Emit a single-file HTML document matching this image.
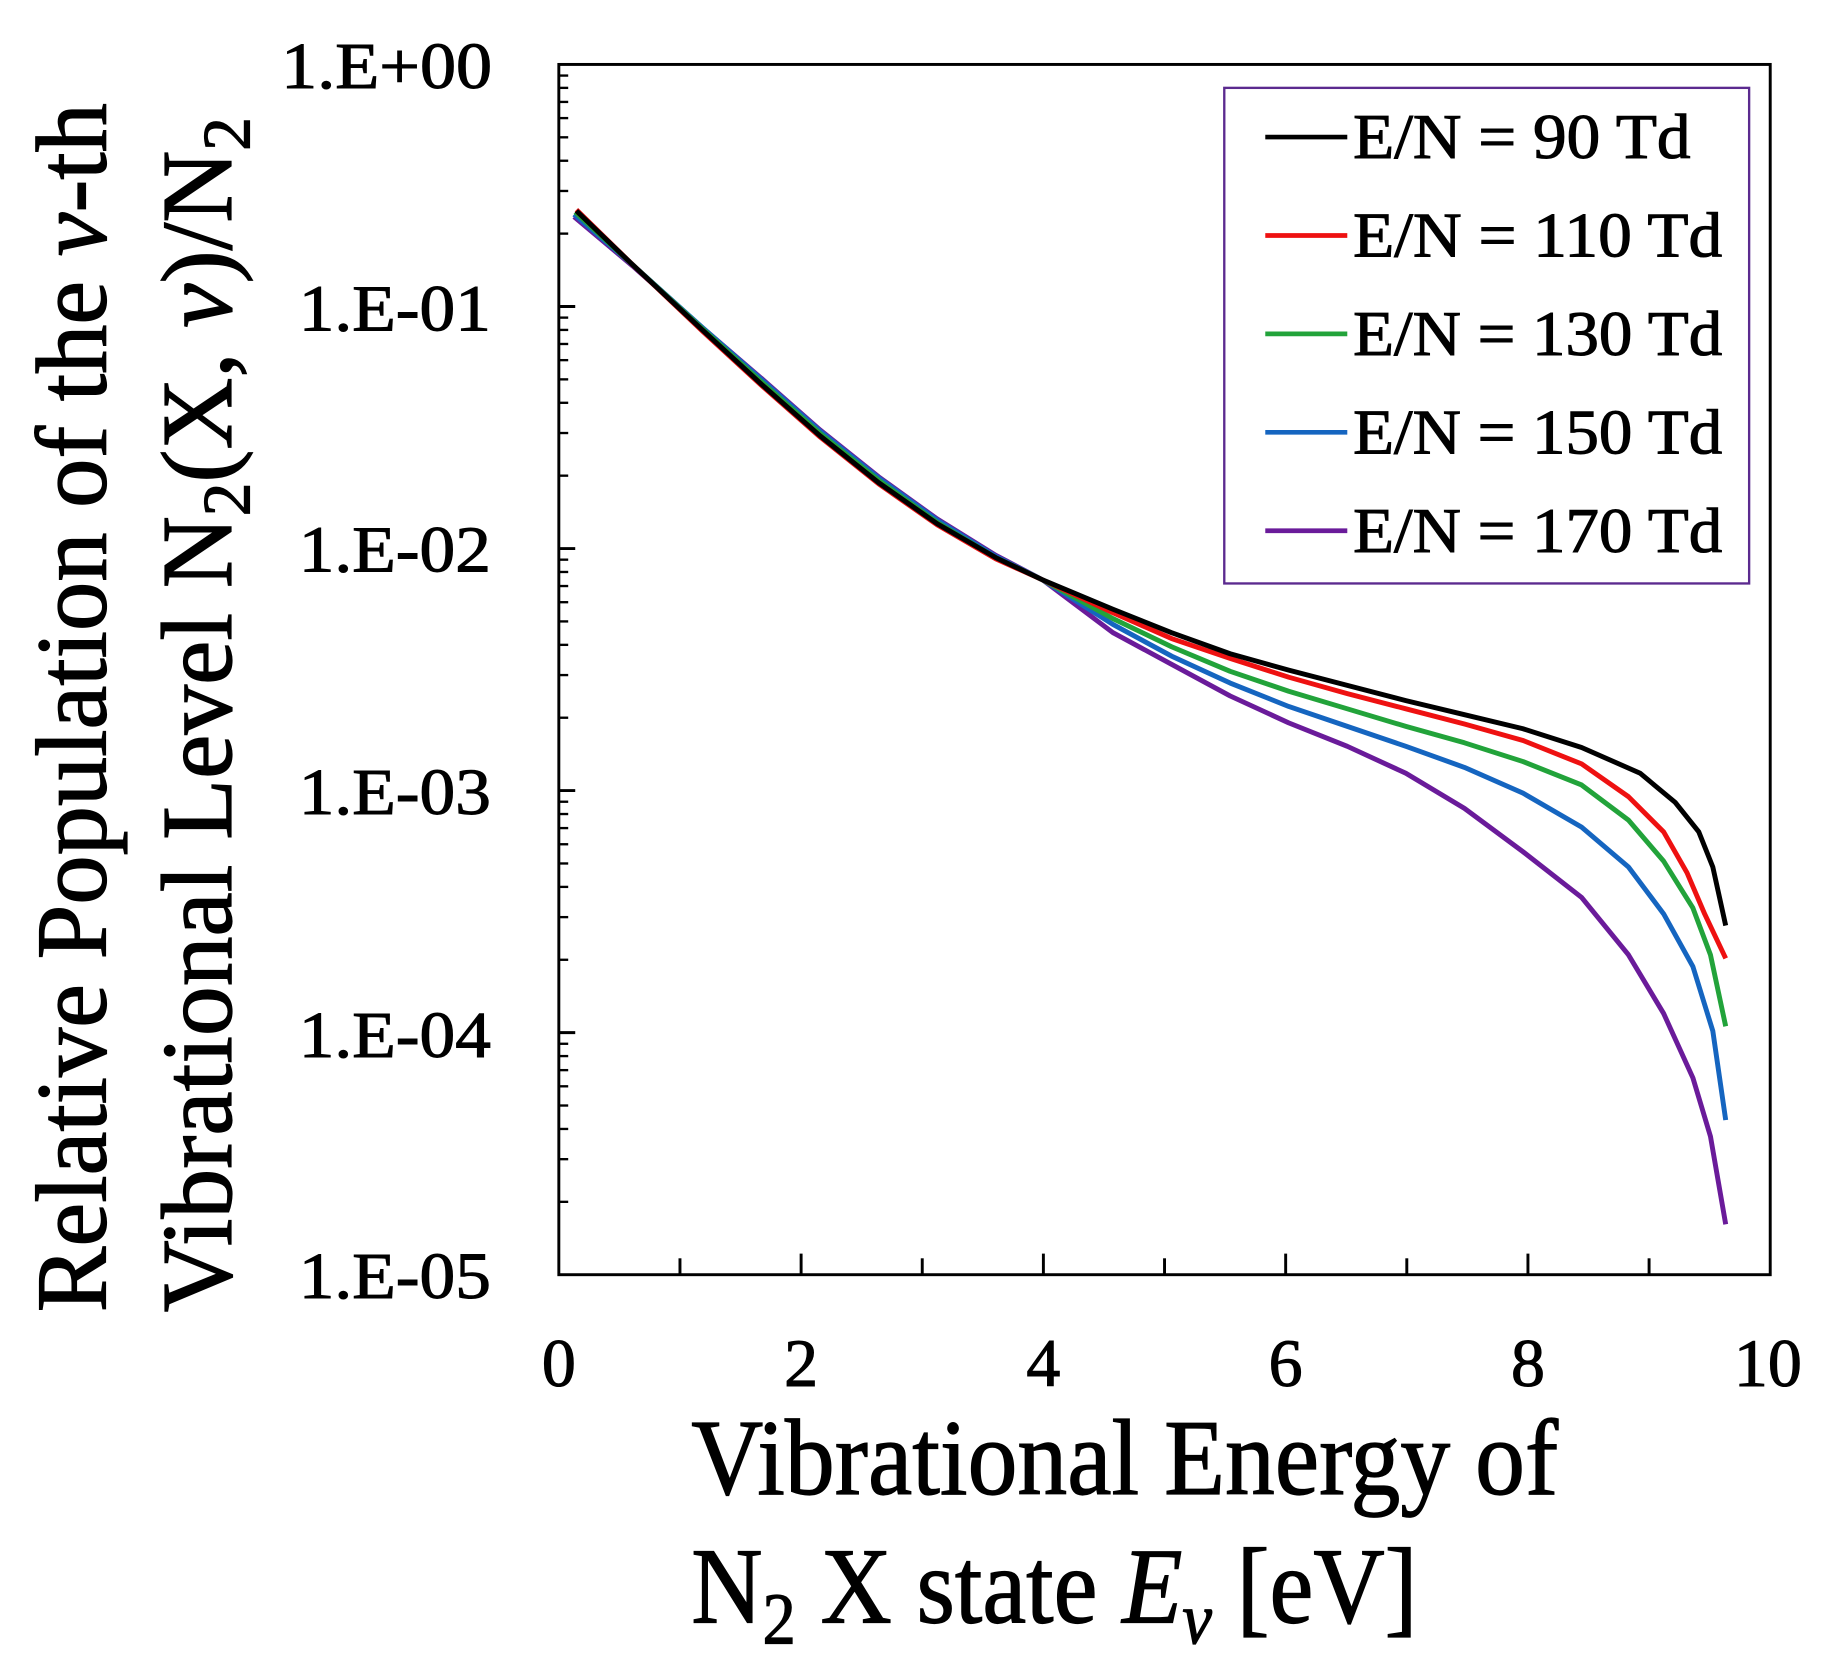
<!DOCTYPE html>
<html><head><meta charset="utf-8"><style>html,body{margin:0;padding:0;background:#fff}svg{display:block}</style></head>
<body>
<svg width="1837" height="1655" viewBox="0 0 1568 1412.6" preserveAspectRatio="none" xmlns="http://www.w3.org/2000/svg" font-family="Liberation Serif, serif">
<defs>
<g id="mt" stroke="#000" stroke-width="2">
<line x1="477" x2="485" y1="-62.2" y2="-62.2"/><line x1="477" x2="485" y1="-98.6" y2="-98.6"/>
<line x1="477" x2="485" y1="-124.4" y2="-124.4"/><line x1="477" x2="485" y1="-144.4" y2="-144.4"/>
<line x1="477" x2="485" y1="-160.8" y2="-160.8"/><line x1="477" x2="485" y1="-174.6" y2="-174.6"/>
<line x1="477" x2="485" y1="-186.6" y2="-186.6"/><line x1="477" x2="485" y1="-197.1" y2="-197.1"/>
</g>
</defs>
<rect x="477" y="55" width="1034" height="1033" fill="none" stroke="#000" stroke-width="2.5"/>
<use href="#mt" transform="translate(0,261.6)"/><use href="#mt" transform="translate(0,468.2)"/>
<use href="#mt" transform="translate(0,674.8)"/><use href="#mt" transform="translate(0,881.4)"/>
<use href="#mt" transform="translate(0,1088)"/>
<g stroke="#000" stroke-width="2.5">
<line x1="477" x2="491" y1="261.6" y2="261.6"/><line x1="477" x2="491" y1="468.2" y2="468.2"/>
<line x1="477" x2="491" y1="674.8" y2="674.8"/><line x1="477" x2="491" y1="881.4" y2="881.4"/>
<line x1="580.4" x2="580.4" y1="1088" y2="1074"/><line x1="683.8" x2="683.8" y1="1088" y2="1070"/>
<line x1="787.2" x2="787.2" y1="1088" y2="1074"/><line x1="890.6" x2="890.6" y1="1088" y2="1070"/>
<line x1="994" x2="994" y1="1088" y2="1074"/><line x1="1097.4" x2="1097.4" y1="1088" y2="1070"/>
<line x1="1200.8" x2="1200.8" y1="1088" y2="1074"/><line x1="1304.2" x2="1304.2" y1="1088" y2="1070"/>
<line x1="1407.6" x2="1407.6" y1="1088" y2="1074"/>
</g>
<g stroke="#000" stroke-width="0.9">
<g font-size="56">
<text x="240" y="75" textLength="180" lengthAdjust="spacingAndGlyphs">1.E+00</text>
<text x="255" y="282" textLength="164" lengthAdjust="spacingAndGlyphs">1.E-01</text>
<text x="255" y="488" textLength="164" lengthAdjust="spacingAndGlyphs">1.E-02</text>
<text x="255" y="695" textLength="164" lengthAdjust="spacingAndGlyphs">1.E-03</text>
<text x="255" y="902" textLength="164" lengthAdjust="spacingAndGlyphs">1.E-04</text>
<text x="255" y="1108" textLength="164" lengthAdjust="spacingAndGlyphs">1.E-05</text>
</g>
<g font-size="58" text-anchor="middle">
<text x="477" y="1183">0</text><text x="683.8" y="1183">2</text><text x="890.6" y="1183">4</text>
<text x="1097.4" y="1183">6</text><text x="1304.2" y="1183">8</text><text x="1509" y="1183">10</text>
</g>
</g>
<g fill="none" stroke-width="4.2" stroke-linejoin="round">
<polyline stroke="#6a1b9a" points="490,185 540,227 600,280 650,323 700,367 750,407 800,443 850,474 890,495 950,540 1000,567 1050,594 1100,617 1150,637 1200,660 1250,690 1300,727 1350,766 1390,815 1420,865 1445,920 1460,970 1473,1045"/>
<polyline stroke="#1565c0" points="490,183 540,226 600,280 650,324 700,368 750,408 800,444 850,475 890,495 950,533 1000,560 1050,583 1100,603 1150,620 1200,637 1250,655 1300,677 1350,706 1390,740 1420,780 1445,825 1462,880 1473,956"/>
<polyline stroke="#22a33a" points="491,181 540,226 600,281 650,326 700,370 750,410 800,446 850,476 890,495 950,528 1000,552 1050,573 1100,590 1150,605 1200,620 1250,634 1300,650 1350,670 1390,700 1420,735 1445,775 1460,815 1473,876"/>
<polyline stroke="#ee1111" points="492,179 540,226 600,283 650,329 700,373 750,413 800,448 850,477 890,495 950,523 1000,545 1050,562 1100,578 1150,592 1200,605 1250,618 1300,632 1350,652 1390,680 1420,710 1440,745 1455,780 1473,818"/>
<polyline stroke="#000" points="492,180 540,226 600,282 650,328 700,372 750,412 800,447 850,476 890,495 950,520 1000,540 1050,558 1100,572 1150,585 1200,598 1250,610 1300,622 1350,638 1400,660 1430,685 1450,710 1462,740 1473,790"/>
</g>
<rect x="1045" y="75" width="448" height="423" fill="#fff" stroke="#5b2a8f" stroke-width="2"/>
<g stroke-width="4">
<line x1="1080" x2="1150" y1="117" y2="117" stroke="#000"/>
<line x1="1080" x2="1150" y1="201" y2="201" stroke="#ee1111"/>
<line x1="1080" x2="1150" y1="285" y2="285" stroke="#22a33a"/>
<line x1="1080" x2="1150" y1="369" y2="369" stroke="#1565c0"/>
<line x1="1080" x2="1150" y1="453" y2="453" stroke="#6a1b9a"/>
</g>
<g font-size="54" stroke="#000" stroke-width="0.9">
<text x="1155" y="135" textLength="288" lengthAdjust="spacingAndGlyphs">E/N = 90 Td</text>
<text x="1155" y="219" textLength="315" lengthAdjust="spacingAndGlyphs">E/N = 110 Td</text>
<text x="1155" y="303" textLength="315" lengthAdjust="spacingAndGlyphs">E/N = 130 Td</text>
<text x="1155" y="387" textLength="315" lengthAdjust="spacingAndGlyphs">E/N = 150 Td</text>
<text x="1155" y="471" textLength="315" lengthAdjust="spacingAndGlyphs">E/N = 170 Td</text>
</g>
<g font-size="92" stroke="#000" stroke-width="1">
<text x="590" y="1275" textLength="740" lengthAdjust="spacingAndGlyphs">Vibrational Energy of</text>
<text x="590" y="1385" textLength="620" lengthAdjust="spacingAndGlyphs">N<tspan font-size="62" dy="18">2</tspan><tspan dy="-18"> X state </tspan><tspan font-style="italic">E</tspan><tspan font-style="italic" font-size="62" dy="18">v</tspan><tspan dy="-18"> [eV]</tspan></text>
</g>
<g font-size="86" stroke="#000" stroke-width="1">
<text transform="translate(90,1120) rotate(-90)" textLength="1032" lengthAdjust="spacingAndGlyphs">Relative Population of the <tspan font-style="italic">ν</tspan>-th</text>
<text transform="translate(197,1120) rotate(-90)" textLength="1020" lengthAdjust="spacingAndGlyphs">Vibrational Level N<tspan font-size="58" dy="16">2</tspan><tspan dy="-16">(X, </tspan><tspan font-style="italic">ν</tspan>)/N<tspan font-size="58" dy="16">2</tspan></text>
</g>
</svg>
</body></html>
